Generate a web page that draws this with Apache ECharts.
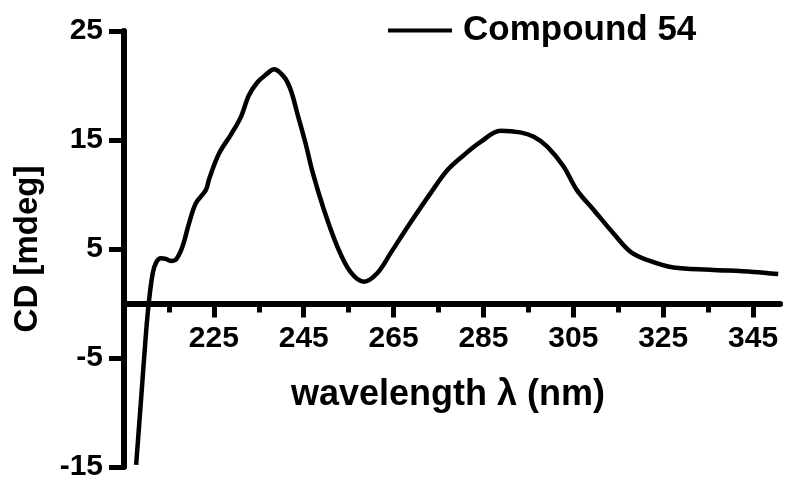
<!DOCTYPE html>
<html>
<head>
<meta charset="utf-8">
<script src="https://cdn.jsdelivr.net/npm/echarts@6/dist/echarts.min.js"></script>
<style>
  html, body { margin: 0; padding: 0; background: #fff; }
  #main { width: 787px; height: 482px; }
</style>
</head>
<body>
<div id="main"></div>
<script>
// 数据 读图估计
const wavelength = [207.7, 208.8, 209.9, 210.5, 211.4, 212.2, 213.2, 214.3, 215.4, 216.6,
  218.0, 219.5, 221.0, 223.2, 224.0, 226.2, 228.8, 231.0, 232.8, 234.7,
  236.6, 238.4, 240.6, 242.1, 243.6, 245.4, 247.0, 249.5, 252.5, 255.4,
  258.4, 261.4, 264.3, 268.4, 273.2, 276.9, 280.6, 284.3, 288.8, 293.2,
  296.2, 299.2, 302.8, 305.8, 309.5, 314.0, 317.7, 321.4, 327.3, 335.4,
  345.1, 350.6]
const cd = [-14.8, -8.8, -2.7, 0.0, 2.8, 3.8, 4.15, 4.1, 3.9, 4.05,
  5.2, 7.4, 9.2, 10.4, 11.5, 13.8, 15.5, 17.1, 19.1, 20.3,
  21.0, 21.5, 20.8, 19.6, 17.4, 14.7, 12.0, 8.6, 5.2, 2.9,
  2.0, 2.8, 4.6, 7.2, 10.1, 12.2, 13.6, 14.8, 15.85, 15.7,
  15.3, 14.4, 12.6, 10.4, 8.6, 6.4, 4.75, 4.0, 3.3, 3.1,
  2.9, 2.7]
const majorTicks = [225, 245, 265, 285, 305, 325, 345]
const minorTicks = [215, 235, 255, 275, 295, 315, 335]
const seriesName = 'Compound 54'

const myChart = echarts.init(document.querySelector('#main'))

const font = 'Liberation Sans, Arial, sans-serif'

// 网格
const gridTop = 31
const gridBottom = 15
const yMin = -15
const yMax = 25
const plotH = 482 - gridTop - gridBottom
// x轴 挪到 y=0 处 (标签跟着走)
const zeroFromBottom = -plotH * (0 - yMin) / (yMax - yMin)
const zeroFromTop = -plotH * (yMax - 0) / (yMax - yMin)

const option = {
  animation: false,
  grid: {
    left: 124,
    right: 7,
    top: gridTop,
    bottom: gridBottom,
    outerBoundsMode: 'none',
    containLabel: false,
  },
  legend: {
    left: 388,
    top: 13,
    padding: 0,
    icon: 'rect',
    itemWidth: 64,
    itemHeight: 4,
    textStyle: {
      fontFamily: font,
      fontWeight: 'bold',
      fontSize: 35,
      color: '#000',
      padding: [0, 0, 0, 6],
    },
    data: [seriesName],
  },
  xAxis: [
    {
      type: 'value',
      position: 'bottom',
      offset: zeroFromBottom,
      min: 205,
      max: 351,
      splitLine: { show: false },
      axisLine: {
        onZero: false,
        lineStyle: { color: '#000', width: 6 },
      },
      axisTick: {
        customValues: majorTicks,
        length: 14,
        lineStyle: { color: '#000', width: 5 },
      },
      axisLabel: {
        customValues: majorTicks,
        margin: 20,
        color: '#000',
        fontFamily: font,
        fontWeight: 'bold',
        fontSize: 30,
      },
      name: 'wavelength λ (nm)',
      nameLocation: 'middle',
      nameGap: 74,
      nameTextStyle: {
        color: '#000',
        fontFamily: font,
        fontWeight: 'bold',
        fontSize: 36,
        padding: [0, 8, 0, 0],
      },
    },
    {
      type: 'value',
      position: 'top',
      offset: zeroFromTop,
      min: 205,
      max: 351,
      splitLine: { show: false },
      axisLine: {
        show: false,
        onZero: false,
      },
      axisTick: {
        customValues: minorTicks,
        inside: true,
        length: 9,
        lineStyle: { color: '#000', width: 5 },
      },
      axisLabel: { show: false },
    },
  ],
  yAxis: {
    type: 'value',
    min: yMin,
    max: yMax,
    interval: 10,
    splitLine: { show: false },
    axisLine: {
      show: true,
      onZero: false,
      lineStyle: { color: '#000', width: 6 },
    },
    axisTick: {
      show: true,
      length: 15,
      lineStyle: { color: '#000', width: 5 },
    },
    axisLabel: {
      margin: 21,
      color: '#000',
      fontFamily: font,
      fontWeight: 'bold',
      fontSize: 30,
    },
    name: 'CD [mdeg]',
    nameLocation: 'middle',
    nameGap: 80,
    nameTextStyle: {
      color: '#000',
      fontFamily: font,
      fontWeight: 'bold',
      fontSize: 33,
    },
  },
  series: [
    {
      name: seriesName,
      type: 'line',
      data: wavelength.map((w, i) => [w, cd[i]]),
      showSymbol: false,
      smooth: 0.35,
      itemStyle: { color: '#000' },
      lineStyle: { color: '#000', width: 4.5 },
    },
  ],
}

myChart.setOption(option)
</script>
</body>
</html>
